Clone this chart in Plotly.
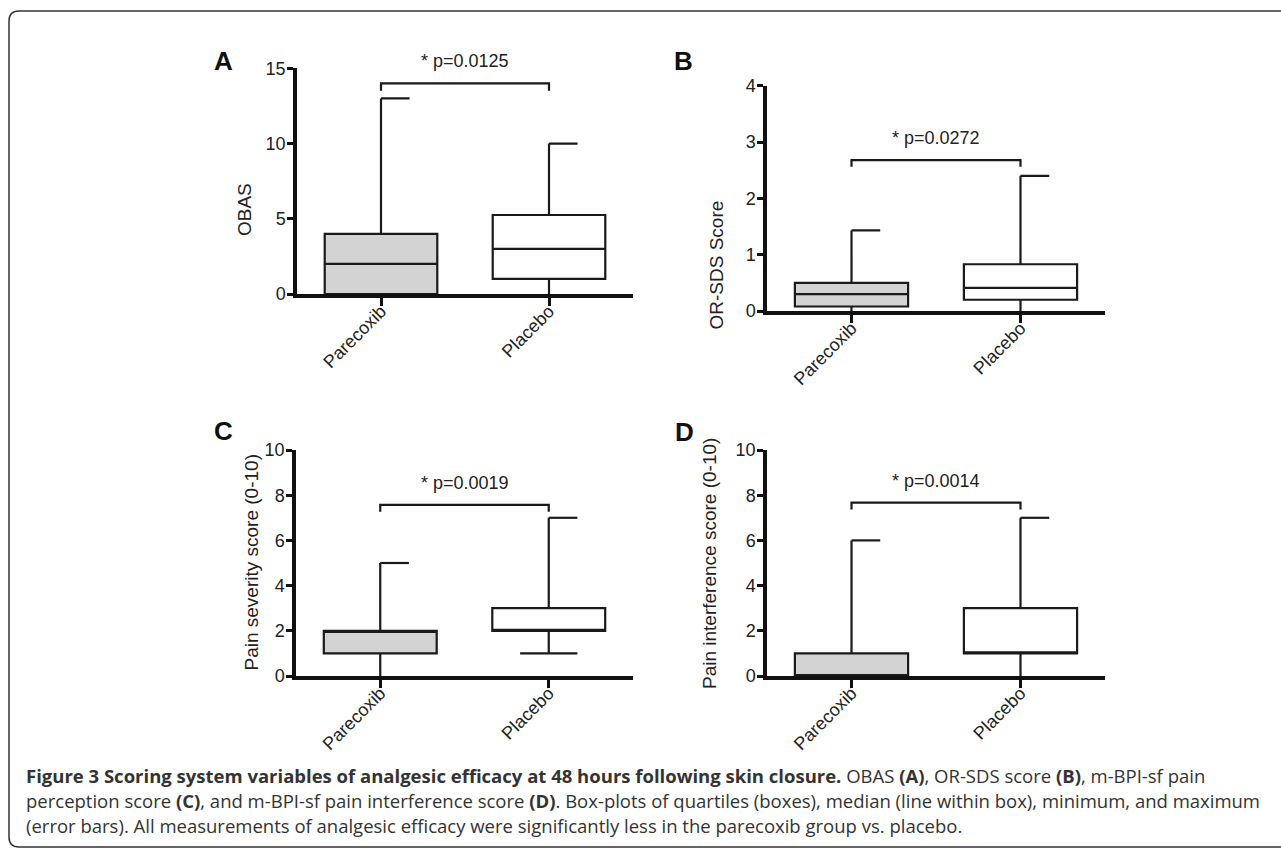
import plotly.graph_objects as go

W, H = 1281, 849

categories = ["Parecoxib", "Placebo"]
panel_letters = ["A", "B", "C", "D"]
y_titles = ["OBAS", "OR-SDS Score", "Pain severity score (0-10)", "Pain interference score (0-10)"]
p_labels = ["* p=0.0125", "* p=0.0272", "* p=0.0019", "* p=0.0014"]

# box statistics per panel, [Parecoxib, Placebo]
A_min = [0, 0];      A_q1 = [0, 1];       A_med = [2, 3];      A_q3 = [4, 5.25];   A_max = [13, 10]
B_min = [0, 0];      B_q1 = [0.08, 0.2];  B_med = [0.3, 0.41]; B_q3 = [0.5, 0.83]; B_max = [1.43, 2.4]
C_min = [0, 1];      C_q1 = [1, 2];       C_med = [2, 2];      C_q3 = [2, 3];      C_max = [5, 7]
D_min = [0, 0];      D_q1 = [0, 1];       D_med = [0, 1];      D_q3 = [1, 3];      D_max = [6, 7]

y_max = [15, 4, 10, 10]
y_dtick = [5, 1, 2, 2]
bracket_y = [14.0, 2.68, 7.57, 7.67]
bracket_drop = [0.5, 0.12, 0.3, 0.3]

caption_lines = [
    "<b>Figure 3 Scoring system variables of analgesic efficacy at 48 hours following skin closure.</b> OBAS <b>(A)</b>, OR-SDS score <b>(B)</b>, m-BPI-sf pain",
    "perception score <b>(C)</b>, and m-BPI-sf pain interference score <b>(D)</b>. Box-plots of quartiles (boxes), median (line within box), minimum, and maximum",
    "(error bars). All measurements of analgesic efficacy were significantly less in the parecoxib group vs. placebo.",
]

stats = [
    (A_min, A_q1, A_med, A_q3, A_max),
    (B_min, B_q1, B_med, B_q3, B_max),
    (C_min, C_q1, C_med, C_q3, C_max),
    (D_min, D_q1, D_med, D_q3, D_max),
]

# layout geometry (pixels): x0, x1, ytop, ybottom
domains = [(297, 633, 68.3, 294), (767, 1105, 85.7, 311), (296, 633, 450, 676), (767, 1105, 450, 676)]
title_pos = [(232, 181), (716, 198), (238, 563), (709, 563)]
letter_pos = [(212, 44), (683, 44), (212, 431), (684, 432)]

fills = ["#d3d3d3", "#ffffff"]
LC = "#1a1a1a"
BOXW = 0.67
CAP = 0.17
FONT = "Liberation Sans, Arial, sans-serif"


def fx(p):
    return p / W


def fy(p):
    return 1 - p / H


fig = go.Figure()
layout = dict(
    width=W, height=H, margin=dict(l=0, r=0, t=0, b=0, pad=0, autoexpand=False),
    paper_bgcolor="white", plot_bgcolor="white",
    showlegend=False, boxmode="overlay",
    font=dict(family=FONT, color="#222"),
)
annotations = []
shapes = []

for k in range(4):
    sfx = "" if k == 0 else str(k + 1)
    xa, ya = "x" + sfx, "y" + sfx
    mn, q1, md, q3, mx = stats[k]
    for i in range(2):
        fig.add_trace(go.Box(
            x=[i], q1=[q1[i]], median=[md[i]], q3=[q3[i]],
            lowerfence=[mn[i]], upperfence=[mx[i]],
            width=BOXW, whiskerwidth=0, fillcolor=fills[i],
            line=dict(color=LC, width=2.2), boxpoints=False,
            hoverinfo="skip", xaxis=xa, yaxis=ya,
        ))
    # caps: max half-cap to the right, min full cap (min caps on the axis are hidden)
    cx, cy = [], []
    for i in range(2):
        cx += [i, i + CAP, None]
        cy += [mx[i], mx[i], None]
        if mn[i] > 0:
            cx += [i - CAP, i + CAP, None]
            cy += [mn[i], mn[i], None]
    fig.add_trace(go.Scatter(x=cx, y=cy, mode="lines", line=dict(color=LC, width=2.2),
                             hoverinfo="skip", xaxis=xa, yaxis=ya, cliponaxis=False))
    # significance bracket
    b, d = bracket_y[k], bracket_drop[k]
    fig.add_trace(go.Scatter(x=[0, 0, 1, 1], y=[b - d, b, b, b - d], mode="lines",
                             line=dict(color=LC, width=2.2), hoverinfo="skip",
                             xaxis=xa, yaxis=ya, cliponaxis=False))
    annotations.append(dict(x=0.5, y=b, xref=xa, yref=ya, text=p_labels[k],
                            yanchor="middle", yshift=22,
                            showarrow=False, font=dict(size=18, family=FONT, color="#222")))

    x0, x1, yt, yb = domains[k]
    layout["xaxis" + sfx] = dict(
        domain=[fx(x0), fx(x1)], range=[-0.5, 1.5], anchor=ya, automargin=False,
        tickvals=[0, 1], ticktext=categories, tickangle=-45, ticklabelstandoff=-12,
        showline=True, linecolor="#111", linewidth=3.5, mirror=False,
        ticks="outside", ticklen=8, tickwidth=3, tickcolor="#111",
        showgrid=False, zeroline=False, fixedrange=True,
        tickfont=dict(size=18, family=FONT, color="#222"),
    )
    layout["yaxis" + sfx] = dict(
        domain=[fy(yb), fy(yt)], range=[0, y_max[k]], anchor=xa, dtick=y_dtick[k],
        automargin=False, ticklabelstandoff=-2,
        showline=True, linecolor="#111", linewidth=3.5,
        ticks="outside", ticklen=6, tickwidth=2.5, tickcolor="#111",
        showgrid=False, zeroline=False, fixedrange=True,
        tickfont=dict(size=18, family=FONT, color="#222"),
    )
    tx, ty = title_pos[k]
    annotations.append(dict(x=fx(tx), y=fy(ty), xref="paper", yref="paper", text=y_titles[k],
                            textangle=-90, showarrow=False,
                            font=dict(size=19, family=FONT, color="#222")))
    lx, ly = letter_pos[k]
    annotations.append(dict(x=fx(lx), y=fy(ly), xref="paper", yref="paper",
                            text="<b>" + panel_letters[k] + "</b>", showarrow=False,
                            font=dict(size=26, family=FONT, color="#111")))

cap_y = [775, 800, 825]
for line, yy in zip(caption_lines, cap_y):
    annotations.append(dict(x=fx(24), y=fy(yy), xref="paper", yref="paper", text=line,
                            xanchor="left", yanchor="middle", showarrow=False,
                            font=dict(size=18.5, family="Open Sans, sans-serif", color="#333")))

# rounded border (open to the right)
r = 10
L, T, B = 9, 11, 847
path = (f"M {fx(1300)},{fy(T)} L {fx(L + r)},{fy(T)} Q {fx(L)},{fy(T)} {fx(L)},{fy(T + r)} "
        f"L {fx(L)},{fy(B - r)} Q {fx(L)},{fy(B)} {fx(L + r)},{fy(B)} L {fx(1300)},{fy(B)}")
shapes.append(dict(type="path", path=path, xref="paper", yref="paper",
                   line=dict(color="#333", width=1.5)))

layout["annotations"] = annotations
layout["shapes"] = shapes
fig.update_layout(**layout)
fig.write_html("out.html", config={"displayModeBar": False},
               post_script="document.body.style.margin='0';document.body.style.overflow='hidden';")
